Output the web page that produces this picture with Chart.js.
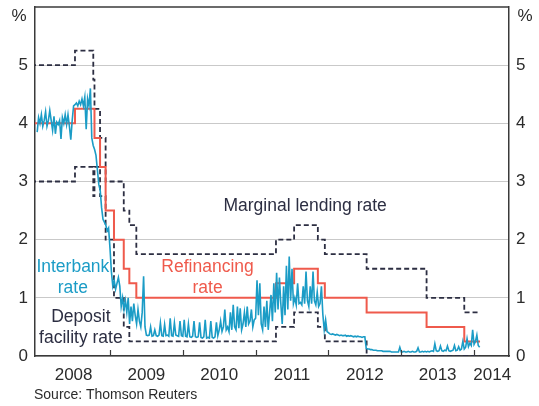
<!DOCTYPE html>
<html>
<head>
<meta charset="utf-8">
<script src="https://cdn.jsdelivr.net/npm/chart.js@4.4.1/dist/chart.umd.min.js"></script>
<style>
  html, body { margin: 0; padding: 0; background: #fff; }
  #wrap { position: relative; width: 539px; height: 406px; }
  #source {
    position: absolute; left: 34px; top: 386px;
    font: 14px "Liberation Sans", Arial, sans-serif; color: #2b2b2b;
  }
</style>
</head>
<body>
<div id="wrap">
  <canvas id="chart" width="539" height="406"></canvas>
  <div id="source">Source: Thomson Reuters</div>
</div>
<script>
// ─── DATA ──────────────────────────────────
// ECB policy rates, in force from each date
const policyDates  = ['2007-12-01', '2008-07-09', '2008-10-09', '2008-10-15', '2008-11-12', '2008-12-10',
                      '2009-01-21', '2009-03-11', '2009-04-08', '2009-05-13', '2011-04-13', '2011-07-13',
                      '2011-11-09', '2011-12-14', '2012-07-11', '2013-05-08', '2013-11-13', '2014-01-31'];
const refiRate     = [4.00, 4.25, 4.25, 3.75, 3.25, 2.50, 2.00, 1.50, 1.25, 1.00, 1.25, 1.50, 1.25, 1.00, 0.75, 0.50, 0.25, 0.25];
const depositRate  = [3.00, 3.25, 2.75, 3.25, 2.75, 2.00, 1.00, 0.50, 0.25, 0.25, 0.50, 0.75, 0.50, 0.25, 0.00, 0.00, 0.00, 0.00];
const marginalRate = [5.00, 5.25, 4.75, 4.25, 3.75, 3.00, 3.00, 2.50, 2.25, 1.75, 2.00, 2.25, 2.00, 1.75, 1.50, 1.00, 0.75, 0.75];

// interbank (overnight) rate, weekly readings per year
const ib2008 = [3.85, 4.10, 4.00, 4.15, 3.95, 4.05, 4.20, 3.95, 4.05, 4.22, 4.05, 3.88, 4.12, 3.82, 4.02, 3.98,
                4.05, 3.73, 4.10, 4.00, 4.15, 3.98, 4.15, 3.95, 3.72, 4.05, 4.30, 4.32, 4.35, 4.30, 4.38, 4.32,
                4.42, 4.30, 4.45, 3.90, 4.42, 4.30, 4.60, 3.75, 3.62, 3.55, 3.45, 3.20, 2.95, 2.85, 2.55, 2.35,
                2.30, 2.25, 2.15, 2.20];
const ib2009 = [1.85, 1.45, 1.20, 1.30, 1.15, 1.25, 1.35, 1.20, 0.85, 1.00, 0.80, 0.95, 0.75, 1.00, 0.55, 0.85,
                0.60, 0.90, 0.70, 0.55, 0.80, 0.60, 0.50, 0.75, 1.37, 0.50, 0.36, 0.35, 0.36, 0.50, 0.34, 0.35,
                0.45, 0.35, 0.34, 0.36, 0.57, 0.35, 0.34, 0.54, 0.35, 0.36, 0.34, 0.65, 0.35, 0.34, 0.57, 0.36,
                0.35, 0.34, 0.60, 0.35];
const ib2010 = [0.34, 0.62, 0.34, 0.33, 0.55, 0.33, 0.32, 0.34, 0.60, 0.33, 0.32, 0.33, 0.58, 0.32, 0.31, 0.33,
                0.62, 0.31, 0.32, 0.31, 0.60, 0.32, 0.31, 0.33, 0.58, 0.35, 0.45, 0.60, 0.42, 0.50, 0.80, 0.45,
                0.50, 0.42, 0.75, 0.45, 0.88, 0.50, 0.45, 0.85, 0.48, 0.82, 0.45, 0.55, 0.75, 0.50, 0.85, 0.55,
                0.60, 0.80, 0.50, 0.62];
const ib2011 = [0.65, 1.30, 0.70, 1.25, 0.55, 0.45, 0.85, 0.50, 0.95, 0.45, 0.75, 1.05, 0.60, 1.25, 0.75, 1.43,
                0.80, 1.35, 0.90, 0.55, 1.20, 0.70, 1.55, 0.80, 1.71, 0.95, 1.50, 0.90, 1.00, 0.88, 1.25, 0.90,
                0.92, 0.88, 1.20, 0.90, 1.45, 0.95, 0.85, 1.20, 0.90, 1.45, 0.95, 0.88, 1.10, 0.85, 0.90, 1.20,
                0.72, 0.45, 0.62, 0.42];
const ib2012 = [0.40, 0.38, 0.37, 0.38, 0.37, 0.36, 0.37, 0.36, 0.35, 0.36, 0.35, 0.35, 0.36, 0.34, 0.35, 0.34,
                0.35, 0.34, 0.33, 0.34, 0.33, 0.34, 0.33, 0.33, 0.32, 0.33, 0.33, 0.13, 0.12, 0.12, 0.11, 0.11,
                0.10, 0.10, 0.10, 0.09, 0.09, 0.09, 0.09, 0.08, 0.08, 0.08, 0.08, 0.08, 0.08, 0.07, 0.07, 0.07,
                0.07, 0.07, 0.07, 0.15];
const ib2013 = [0.07, 0.07, 0.08, 0.07, 0.07, 0.08, 0.07, 0.07, 0.08, 0.07, 0.07, 0.08, 0.14, 0.07, 0.07, 0.08,
                0.07, 0.08, 0.07, 0.08, 0.07, 0.08, 0.09, 0.08, 0.21, 0.09, 0.08, 0.09, 0.17, 0.09, 0.08, 0.10,
                0.09, 0.17, 0.09, 0.08, 0.09, 0.10, 0.18, 0.09, 0.10, 0.16, 0.10, 0.12, 0.25, 0.12, 0.15, 0.30,
                0.16, 0.22, 0.18, 0.45];
const ib2014 = [0.20, 0.25, 0.36, 0.18, 0.15];

const xLabels   = ['2008', '2009', '2010', '2011', '2012', '2013', '2014'];
const xLabelPos = [2008.5, 2009.5, 2010.5, 2011.5, 2012.5, 2013.5, 2014.25];
const yearTicks = [2009, 2010, 2011, 2012, 2013, 2014];

// ─── HELPERS ──────────────────────────────────
const FONT = '"Liberation Sans", Arial, sans-serif';
const DARK = '#2c2e42';
const RED = '#ef5a4c';
const TEAL = '#1b9cc6';

function toYear(s) {
  const d = Date.parse(s + 'T00:00:00Z');
  const y = new Date(d).getUTCFullYear();
  const a = Date.UTC(y, 0, 1), b = Date.UTC(y + 1, 0, 1);
  return y + (d - a) / (b - a);
}

const stepPoints = rates => policyDates.map((d, i) => ({ x: toYear(d), y: rates[i] }));

const interbank = [];
[[2008, ib2008], [2009, ib2009], [2010, ib2010], [2011, ib2011], [2012, ib2012], [2013, ib2013], [2014, ib2014]]
  .forEach(([yr, arr]) => arr.forEach((v, i) => interbank.push({ x: yr + i / 52, y: v })));

// no extra room for half-labels at the ends of the axes
function noEndPadding(s) {
  s.paddingTop = 0; s.paddingBottom = 0; s.paddingLeft = 0; s.paddingRight = 0;
}

// ─── PLUGIN: frame, ticks, labels ──────────────
const extras = {
  id: 'extras',
  afterDatasetsDraw(chart) {
    const { ctx, chartArea: a, scales } = chart;
    const x = scales.x, y = scales.y;
    ctx.save();
    // top border
    ctx.strokeStyle = '#3a3a3a';
    ctx.lineWidth = 1.5;
    ctx.beginPath();
    ctx.moveTo(a.left, a.top);
    ctx.lineTo(a.right, a.top);
    ctx.stroke();
    // inward year ticks
    ctx.lineWidth = 1.2;
    yearTicks.forEach(v => {
      const px = Math.round(x.getPixelForValue(v)) + 0.5;
      ctx.beginPath();
      ctx.moveTo(px, a.bottom);
      ctx.lineTo(px, a.bottom - 6);
      ctx.stroke();
    });
    // % units
    ctx.font = '17px ' + FONT;
    ctx.fillStyle = '#2b2b2b';
    ctx.textAlign = 'center';
    ctx.textBaseline = 'middle';
    ctx.fillText('%', a.left - 16, a.top + 9);
    ctx.fillText('%', a.right + 16, a.top + 9);
    // series labels
    ctx.font = '17.5px ' + FONT;
    const put = (lines, xv, yv, color) => {
      ctx.fillStyle = color;
      const px = x.getPixelForValue(xv), py = y.getPixelForValue(yv);
      lines.forEach((t, i) => ctx.fillText(t, px, py + i * 21));
    };
    put(['Marginal lending rate'], 2011.68, 2.58, DARK);
    put(['Refinancing', 'rate'], 2010.34, 1.52, RED);
    put(['Interbank', 'rate'], 2008.49, 1.52, TEAL);
    put(['Deposit', 'facility rate'], 2008.60, 0.66, DARK);
    ctx.restore();
  }
};

// ─── CHART ──────────────────────────────────
new Chart(document.getElementById('chart'), {
  type: 'line',
  data: {
    datasets: [
      { label: 'Interbank rate', data: interbank, borderColor: TEAL, borderWidth: 1.6, pointRadius: 0, tension: 0 },
      { label: 'Refinancing rate', data: stepPoints(refiRate), borderColor: RED, borderWidth: 2, pointRadius: 0, stepped: true },
      { label: 'Marginal lending rate', data: stepPoints(marginalRate), borderColor: DARK, borderWidth: 1.8, borderDash: [5, 3], pointRadius: 0, stepped: true },
      { label: 'Deposit facility rate', data: stepPoints(depositRate), borderColor: DARK, borderWidth: 1.8, borderDash: [5, 3], pointRadius: 0, stepped: true },
    ]
  },
  options: {
    responsive: false,
    animation: false,
    parsing: false,
    layout: { padding: { top: 7, bottom: 20, left: 0, right: 0 } },
    plugins: { legend: { display: false }, tooltip: { enabled: false } },
    scales: {
      x: {
        type: 'linear',
        min: 2007.97,
        max: 2014.48,
        afterBuildTicks: s => { s.ticks = xLabelPos.map(v => ({ value: v })); },
        afterFit: s => { s.height = 30; noEndPadding(s); },
        grid: { display: false, drawTicks: false },
        border: { display: true, color: '#3a3a3a', width: 1.5 },
        ticks: {
          color: '#2b2b2b', padding: 9, maxRotation: 0, autoSkip: false,
          font: { family: FONT, size: 17 },
          callback: (v, i) => xLabels[i]
        }
      },
      y: {
        position: 'left',
        min: 0, max: 6,
        afterFit: s => { s.width = 35; noEndPadding(s); },
        grid: { color: '#c9c9c9', lineWidth: 1, drawTicks: false },
        border: { display: true, color: '#3a3a3a', width: 1.5 },
        ticks: {
          stepSize: 1, padding: 7, color: '#2b2b2b',
          font: { family: FONT, size: 17 },
          callback: v => (v === 6 ? null : v)
        }
      },
      y2: {
        position: 'right',
        min: 0, max: 6,
        afterFit: s => { s.width = 30; noEndPadding(s); },
        grid: { drawOnChartArea: false, drawTicks: false },
        border: { display: true, color: '#3a3a3a', width: 1.5 },
        ticks: {
          stepSize: 1, padding: 7, color: '#2b2b2b',
          font: { family: FONT, size: 17 },
          callback: v => (v === 6 ? null : v)
        }
      }
    }
  },
  plugins: [extras]
});
</script>
</body>
</html>
